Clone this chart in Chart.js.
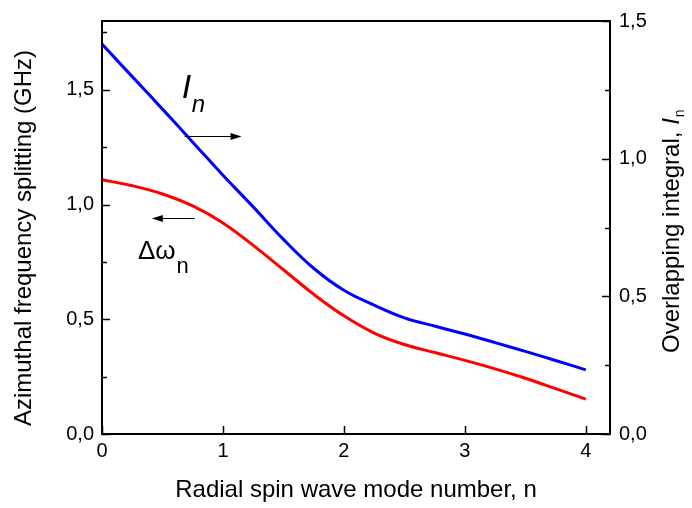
<!DOCTYPE html>
<html>
<head>
<meta charset="utf-8">
<script src="https://cdn.jsdelivr.net/npm/chart.js@4.4.1/dist/chart.umd.min.js"></script>
<style>
  html, body { margin: 0; padding: 0; background: #fff; }
  #wrap { width: 692px; height: 508px; }
</style>
</head>
<body>
<div id="wrap"><canvas id="chart" width="692" height="508"></canvas></div>
<script>
// radial mode number n
const modeNumbers = [0, 0.25, 0.5, 0.75, 1, 1.25, 1.5, 1.75, 2, 2.25, 2.5, 2.75, 3, 3.25, 3.5, 3.75, 4];
// azimuthal frequency splitting, GHz (left axis, red)
const splitting = [1.108, 1.082, 1.046, 0.994, 0.92, 0.822, 0.716, 0.609, 0.515, 0.44, 0.39, 0.355, 0.321, 0.284, 0.243, 0.198, 0.152];
// overlapping integral I_n (right axis, blue)
const overlap = [1.416, 1.298, 1.18, 1.06, 0.94, 0.825, 0.707, 0.602, 0.522, 0.468, 0.422, 0.392, 0.363, 0.332, 0.30, 0.267, 0.233];

const xTicks = [0, 1, 2, 3, 4];
const leftTicks = [0, 0.5, 1.0, 1.5];
const rightTicks = [0, 0.5, 1.0, 1.5];

const FONT = '"Liberation Sans", Arial, sans-serif';

function comma(v) {
  return v.toFixed(1).replace(".", ",");
}

// inward ticks, frame, axis titles and the two labels with arrows
const decorations = {
  id: "decorations",
  afterDraw(chart) {
    const ctx = chart.ctx;
    const area = chart.chartArea;
    const sx = chart.scales.x;
    const sy = chart.scales.y;
    const sy1 = chart.scales.y1;

    ctx.save();
    ctx.strokeStyle = "#000";
    ctx.lineWidth = 2;
    ctx.strokeRect(area.left, area.top, area.right - area.left, area.bottom - area.top);

    ctx.lineWidth = 1.5;
    ctx.beginPath();
    sx.ticks.forEach((t) => {
      const px = Math.round(sx.getPixelForValue(t.value)) + 0.5;
      ctx.moveTo(px, area.bottom);
      ctx.lineTo(px, area.bottom - 8);
    });
    sy.ticks.forEach((t) => {
      const py = Math.round(sy.getPixelForValue(t.value)) + 0.5;
      const major = leftTicks.some((v) => Math.abs(v - t.value) < 1e-6);
      ctx.moveTo(area.left, py);
      ctx.lineTo(area.left + (major ? 8 : 5), py);
    });
    sy1.ticks.forEach((t) => {
      const py = Math.round(sy1.getPixelForValue(t.value)) + 0.5;
      const major = rightTicks.some((v) => Math.abs(v - t.value) < 1e-6);
      ctx.moveTo(area.right, py);
      ctx.lineTo(area.right - (major ? 8 : 5), py);
    });
    ctx.stroke();

    ctx.fillStyle = "#000";

    // x title
    ctx.font = "24px " + FONT;
    ctx.textAlign = "center";
    ctx.textBaseline = "alphabetic";
    ctx.fillText("Radial spin wave mode number, n", (area.left + area.right) / 2, 497);

    // left title
    ctx.save();
    ctx.translate(31, 238);
    ctx.rotate(-Math.PI / 2);
    ctx.fillText("Azimuthal frequency splitting (GHz)", 0, 0);
    ctx.restore();

    // right title with italic I and subscript n
    ctx.save();
    ctx.translate(679, 353);
    ctx.rotate(-Math.PI / 2);
    ctx.textAlign = "left";
    ctx.font = "24px " + FONT;
    const part = "Overlapping integral, ";
    ctx.fillText(part, 0, 0);
    let w = ctx.measureText(part).width;
    ctx.font = "italic 24px " + FONT;
    ctx.fillText("I", w, 0);
    w += ctx.measureText("I").width + 1;
    ctx.font = "14px " + FONT;
    ctx.fillText("n", w, 5);
    ctx.restore();

    // I_n label
    const ix = sx.getPixelForValue(0.66);
    const iy = sy.getPixelForValue(1.466);
    ctx.textAlign = "left";
    ctx.font = "italic 34px " + FONT;
    ctx.fillText("I", ix, iy);
    ctx.font = "italic 24px " + FONT;
    ctx.fillText("n", ix + 10, iy + 14);

    // delta omega_n label
    const dx = sx.getPixelForValue(0.297);
    const dy = sy.getPixelForValue(0.763);
    ctx.font = "26px " + FONT;
    ctx.fillText("\u0394\u03C9", dx, dy);
    const dw = ctx.measureText("\u0394\u03C9").width;
    ctx.font = "22px " + FONT;
    ctx.fillText("n", dx + dw + 1, dy + 14);

    // arrows
    function arrow(x0, x1, yv) {
      const a = sx.getPixelForValue(x0);
      const b = sx.getPixelForValue(x1);
      const y = Math.round(sy.getPixelForValue(yv)) + 0.5;
      const dir = b > a ? 1 : -1;
      ctx.lineWidth = 1;
      ctx.beginPath();
      ctx.moveTo(a, y);
      ctx.lineTo(b - dir * 8, y);
      ctx.stroke();
      ctx.beginPath();
      ctx.moveTo(b, y);
      ctx.lineTo(b - dir * 11, y - 3.5);
      ctx.lineTo(b - dir * 11, y + 3.5);
      ctx.closePath();
      ctx.fill();
    }
    arrow(0.684, 1.154, 1.297);
    arrow(0.767, 0.412, 0.941);

    ctx.restore();
  },
};

const ctx = document.getElementById("chart").getContext("2d");
new Chart(ctx, {
  type: "line",
  data: {
    datasets: [
      {
        label: "Overlapping integral",
        data: modeNumbers.map((n, i) => ({ x: n, y: overlap[i] })),
        yAxisID: "y1",
        borderColor: "#0000ff",
        borderWidth: 3,
        pointRadius: 0,
        tension: 0.4,
        fill: false,
      },
      {
        label: "Azimuthal frequency splitting",
        data: modeNumbers.map((n, i) => ({ x: n, y: splitting[i] })),
        yAxisID: "y",
        borderColor: "#ff0000",
        borderWidth: 3,
        pointRadius: 0,
        tension: 0.4,
        fill: false,
      },
    ],
  },
  options: {
    responsive: false,
    animation: false,
    layout: { padding: { top: 19, left: 0, right: 0, bottom: 0 } },
    plugins: {
      legend: { display: false },
      tooltip: { enabled: false },
    },
    scales: {
      x: {
        type: "linear",
        min: 0,
        max: 4.2,
        afterFit: (s) => { s.height = 74; },
        grid: { display: false, drawTicks: false },
        border: { display: false },
        ticks: {
          stepSize: 1,
          includeBounds: false,
          padding: 5,
          color: "#000",
          font: { size: 20, family: FONT },
          maxRotation: 0,
          callback: (v) => (xTicks.includes(v) ? String(v) : ""),
        },
      },
      y: {
        position: "left",
        min: 0,
        max: 1.8,
        afterFit: (s) => { s.width = 102; },
        grid: { display: false, drawTicks: false },
        border: { display: false },
        ticks: {
          stepSize: 0.25,
          includeBounds: false,
          padding: 8,
          color: "#000",
          font: { size: 20, family: FONT },
          callback: (v) => (leftTicks.some((t) => Math.abs(t - v) < 1e-6) ? comma(v) : ""),
        },
      },
      y1: {
        position: "right",
        min: 0,
        max: 1.5,
        afterFit: (s) => { s.width = 82; },
        grid: { display: false, drawTicks: false },
        border: { display: false },
        ticks: {
          stepSize: 0.25,
          includeBounds: false,
          padding: 9,
          color: "#000",
          font: { size: 20, family: FONT },
          callback: (v) => (rightTicks.some((t) => Math.abs(t - v) < 1e-6) ? comma(v) : ""),
        },
      },
    },
  },
  plugins: [decorations],
});
</script>
</body>
</html>
